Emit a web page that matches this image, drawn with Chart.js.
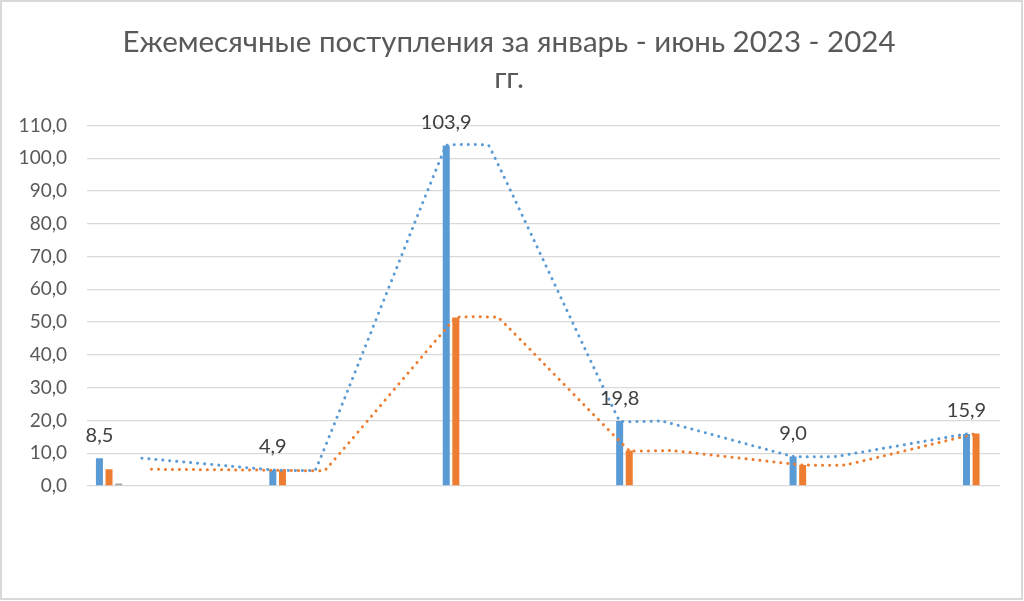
<!DOCTYPE html>
<html>
<head>
<meta charset="utf-8">
<script src="https://cdn.jsdelivr.net/npm/chart.js@4/dist/chart.umd.min.js"></script>
<style>
html,body{margin:0;padding:0;background:#fff;}
#wrap{width:1024px;height:601px;position:relative;}
</style>
</head>
<body>
<div id="wrap"><canvas id="c" width="1024" height="601"></canvas></div>
<script>
// ---- data ----
const categories = ['январь', 'февраль', 'март', 'апрель', 'май', 'июнь'];
const seriesBlue = [8.5, 4.9, 103.9, 19.8, 9.0, 15.9];
const seriesOrange = [5.1, 4.8, 51.4, 10.8, 6.4, 16.0];
const seriesGray = [0.8, null, null, null, null, null];
const yTickValues = [0, 10, 20, 30, 40, 50, 60, 70, 80, 90, 100, 110];
const titleLines = ['Ежемесячные поступления за январь - июнь 2023 - 2024', 'гг.'];

// ---- styling ----
const FONT = 'Lato, "Open Sans", sans-serif';
const BLUE = '#5b9bd5', ORANGE = '#ed7d31', GRAY = '#a5a5a5';
const CAT_PCT = 0.166, BAR_PCT = 0.73;
const SLOT = CAT_PCT / 3;     // width of one bar slot in category units
const LAG = 0.245;            // horizontal run of the flat part of each dotted line

function barPoints(values) {
  return values.map((v, i) => ({ x: i, y: v }));
}
function trendPoints(values, slotOffset) {
  const pts = [];
  values.forEach((v, i) => {
    if (i > 0) pts.push({ x: i + slotOffset, y: v });
    if (i < values.length - 1) pts.push({ x: i + slotOffset + LAG, y: v });
  });
  return pts;
}

const lineCommon = {
  type: 'line',
  borderWidth: 3,
  borderDash: [0.1, 6.9],
  borderCapStyle: 'round',
  pointRadius: 0,
  fill: false,
  tension: 0.04,
  order: 0
};

const labelPlugin = {
  id: 'valueLabels',
  afterDatasetsDraw(chart) {
    const meta = chart.getDatasetMeta(2);
    const ctx = chart.ctx;
    ctx.save();
    ctx.font = '20px ' + FONT;
    ctx.fillStyle = '#404040';
    ctx.textAlign = 'center';
    ctx.textBaseline = 'middle';
    meta.data.forEach((el, i) => {
      const v = seriesBlue[i];
      ctx.fillText(v.toFixed(1).replace('.', ','), el.x, el.y - 23);
    });
    ctx.restore();
  }
};

const decorPlugin = {
  id: 'decor',
  afterDraw(chart) {
    const ctx = chart.ctx;
    ctx.save();
    ctx.font = '29.5px ' + FONT;
    ctx.fillStyle = '#595959';
    ctx.textAlign = 'center';
    ctx.textBaseline = 'middle';
    ctx.fillText(titleLines[0], 509, 42);
    ctx.fillText(titleLines[1], 509, 78);
    ctx.strokeStyle = '#d9d9d9';
    ctx.lineWidth = 2;
    ctx.strokeRect(1, 1, 1021, 598);
    ctx.restore();
  }
};

new Chart(document.getElementById('c'), {
  type: 'bar',
  data: {
    datasets: [
      Object.assign({}, lineCommon, { label: 'тренд 2023', data: trendPoints(seriesBlue, -SLOT), borderColor: BLUE }),
      Object.assign({}, lineCommon, { label: 'тренд 2024', data: trendPoints(seriesOrange, 0), borderColor: ORANGE }),
      { type: 'bar', label: '2023', data: barPoints(seriesBlue), backgroundColor: BLUE, order: 1 },
      { type: 'bar', label: '2024', data: barPoints(seriesOrange), backgroundColor: ORANGE, order: 1 },
      { type: 'bar', label: 'прочее', data: barPoints(seriesGray), backgroundColor: GRAY, order: 1 }
    ]
  },
  options: {
    responsive: false,
    devicePixelRatio: 1,
    animation: false,
    layout: { padding: { left: 0, right: 24, top: 125.5, bottom: 115 } },
    datasets: { bar: { categoryPercentage: CAT_PCT, barPercentage: BAR_PCT, grouped: true } },
    plugins: { legend: { display: false }, tooltip: { enabled: false }, title: { display: false } },
    scales: {
      x: {
        type: 'linear', display: false, offset: false, bounds: 'data', min: -0.127, max: 5.138,
        afterBuildTicks(s) { s.ticks = categories.map((_, i) => ({ value: i })); },
        grid: { display: false, offset: false }
      },
      y: {
        min: 0, max: 110,
        afterBuildTicks(s) { s.ticks = yTickValues.map(v => ({ value: v })); },
        afterFit(s) { s.width = 87; },
        ticks: {
          padding: 20,
          color: '#595959',
          font: { family: FONT, size: 19 },
          callback: v => Number(v).toFixed(1).replace('.', ',')
        },
        grid: { color: '#d9d9d9', lineWidth: 1.3, drawTicks: false },
        border: { display: false }
      }
    }
  },
  plugins: [labelPlugin, decorPlugin]
});
</script>
</body>
</html>
